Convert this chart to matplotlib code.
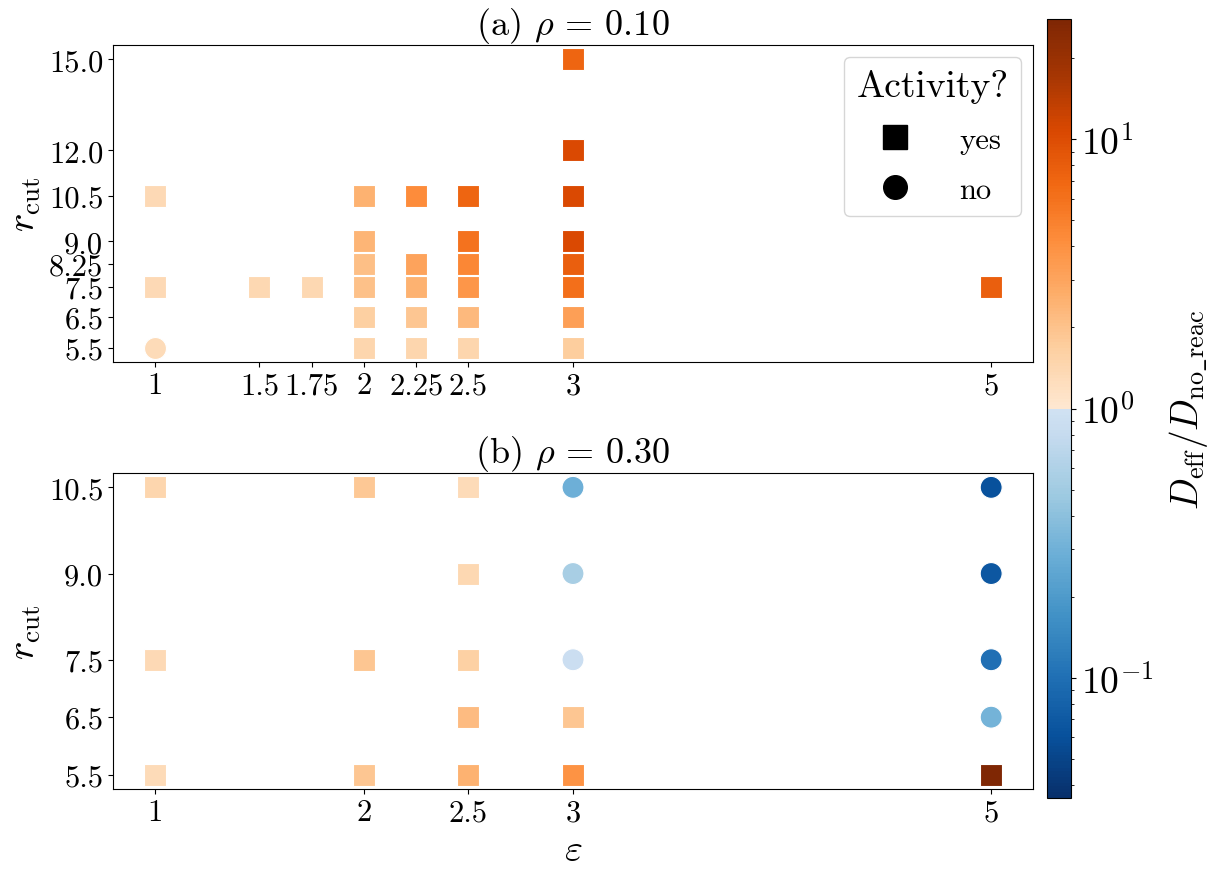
import numpy as np
import matplotlib
matplotlib.use("Agg")
import matplotlib.pyplot as plt
from matplotlib.colors import ListedColormap, LogNorm
from matplotlib.lines import Line2D

plt.rcParams["font.family"] = "serif"
plt.rcParams["font.serif"] = ["cmr10", "DejaVu Serif"]
plt.rcParams["mathtext.fontset"] = "cm"
plt.rcParams["axes.unicode_minus"] = False
plt.rcParams["axes.formatter.use_mathtext"] = True

# panel (a): rho = 0.10
eps_a = [1, 1, 1, 1.5, 1.75,
         2, 2, 2, 2, 2, 2,
         2.25, 2.25, 2.25, 2.25, 2.25,
         2.5, 2.5, 2.5, 2.5, 2.5, 2.5,
         3, 3, 3, 3, 3, 3, 3, 3,
         5]
rcut_a = [10.5, 7.5, 5.5, 7.5, 7.5,
          10.5, 9.0, 8.25, 7.5, 6.5, 5.5,
          10.5, 8.25, 7.5, 6.5, 5.5,
          10.5, 9.0, 8.25, 7.5, 6.5, 5.5,
          15.0, 12.0, 10.5, 9.0, 8.25, 7.5, 6.5, 5.5,
          7.5]
ratio_a = [1.35, 1.35, 1.3, 1.4, 1.4,
           2.5, 2.4, 2.1, 2.05, 1.65, 1.45,
           4.2, 3.1, 2.5, 1.9, 1.45,
           7.2, 6.0, 4.6, 3.7, 2.3, 1.46,
           7.2, 10.5, 10.5, 10.5, 7.8, 6.2, 3.3, 1.7,
           7.8]
active_a = ["yes", "yes", "no", "yes", "yes",
            "yes", "yes", "yes", "yes", "yes", "yes",
            "yes", "yes", "yes", "yes", "yes",
            "yes", "yes", "yes", "yes", "yes", "yes",
            "yes", "yes", "yes", "yes", "yes", "yes", "yes", "yes",
            "yes"]

# panel (b): rho = 0.30
eps_b = [1, 1, 1,
         2, 2, 2,
         2.5, 2.5, 2.5, 2.5, 2.5,
         3, 3, 3, 3, 3,
         5, 5, 5, 5, 5]
rcut_b = [10.5, 7.5, 5.5,
          10.5, 7.5, 5.5,
          10.5, 9.0, 7.5, 6.5, 5.5,
          10.5, 9.0, 7.5, 6.5, 5.5,
          10.5, 9.0, 7.5, 6.5, 5.5]
ratio_b = [1.45, 1.35, 1.3,
           1.85, 1.9, 1.9,
           1.3, 1.4, 1.6, 2.2, 2.5,
           0.29, 0.54, 0.9, 1.9, 3.9,
           0.061, 0.067, 0.1, 0.31, 28.0]
active_b = ["yes", "yes", "yes",
            "yes", "yes", "yes",
            "yes", "yes", "yes", "yes", "yes",
            "no", "no", "no", "yes", "yes",
            "no", "no", "no", "no", "yes"]

eps_ticks_a = [1, 1.5, 1.75, 2, 2.25, 2.5, 3, 5]
eps_labels_a = ["1", "1.5", "1.75", "2", "2.25", "2.5", "3", "5"]
rcut_ticks_a = [15.0, 12.0, 10.5, 9.0, 8.25, 7.5, 6.5, 5.5]
eps_ticks_b = [1, 2, 2.5, 3, 5]
eps_labels_b = ["1", "2", "2.5", "3", "5"]
rcut_ticks_b = [10.5, 9.0, 7.5, 6.5, 5.5]

# blues below 1, oranges above 1
blues = plt.cm.Blues(np.linspace(1.0, 0.2, 128))
oranges = plt.cm.Oranges(np.linspace(0.12, 1.0, 128))
cmap = ListedColormap(np.vstack([blues, oranges]))
vmax = 28.0
norm = LogNorm(vmin=1 / vmax, vmax=vmax)

W, H = 1219, 878
fig = plt.figure(figsize=(W / 100, H / 100), dpi=100)
ax1 = fig.add_axes([113 / W, 1 - 363 / H, 920 / W, 317 / H])
ax2 = fig.add_axes([113 / W, 1 - 790 / H, 920 / W, 316 / H])
cax = fig.add_axes([1047 / W, 1 - 799 / H, 24 / W, 779 / H])

markers = {"yes": "s", "no": "o"}


def draw(ax, eps, rcut, ratio, active):
    eps = np.array(eps)
    rcut = np.array(rcut)
    ratio = np.array(ratio)
    active = np.array(active)
    for key, m in markers.items():
        sel = active == key
        if sel.any():
            ax.scatter(eps[sel], rcut[sel], c=ratio[sel], cmap=cmap, norm=norm,
                       marker=m, s=250, edgecolors="white", linewidths=0.8)


draw(ax1, eps_a, rcut_a, ratio_a, active_a)
draw(ax2, eps_b, rcut_b, ratio_b, active_b)

ax1.set_xticks(eps_ticks_a, eps_labels_a)
ax1.set_yticks(rcut_ticks_a, [str(v) for v in rcut_ticks_a])
ax2.set_xticks(eps_ticks_b, eps_labels_b)
ax2.set_yticks(rcut_ticks_b, [str(v) for v in rcut_ticks_b])

for ax in (ax1, ax2):
    ax.tick_params(labelsize=22)
    ax.set_ylabel(r"$r_\mathrm{cut}$", fontsize=28, labelpad=4)
ax1.set_title(r"(a) $\rho$ = 0.10", fontsize=26, pad=6)
ax2.set_title(r"(b) $\rho$ = 0.30", fontsize=26, pad=6)
ax2.set_xlabel(r"$\varepsilon$", fontsize=28)

handles = [Line2D([], [], marker="s", color="k", ls="", markersize=17),
           Line2D([], [], marker="o", color="k", ls="", markersize=17)]
leg = ax1.legend(handles, ["yes", "no"], title="Activity?", loc="upper right",
                 fontsize=22, title_fontsize=27, borderaxespad=0.4,
                 labelspacing=0.75, handletextpad=1.1)

sm = plt.cm.ScalarMappable(norm=norm, cmap=cmap)
cb = fig.colorbar(sm, cax=cax)
cb.ax.tick_params(labelsize=27)
cb.set_label(r"$D_\mathrm{eff}/D_\mathrm{no\_reac}$", fontsize=27, labelpad=10)

fig.savefig("out.png", dpi=100)
